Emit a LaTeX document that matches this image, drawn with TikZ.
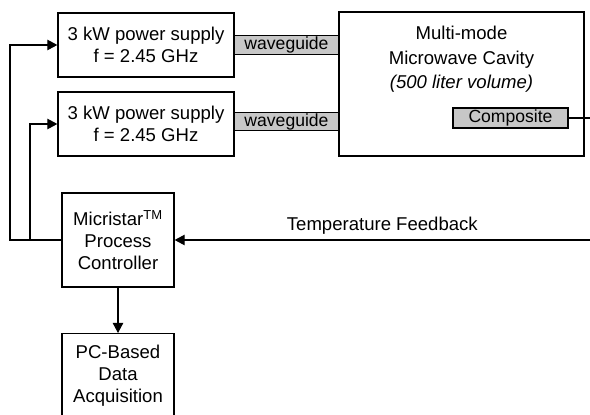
\documentclass[tikz,border=0pt]{standalone}
\usepackage{fontspec}
\setmainfont{Liberation Sans}
\usepackage{tikz}
\usetikzlibrary{arrows.meta,positioning,calc}

\begin{document}
\begin{tikzpicture}[>={Triangle[length=2.5mm,width=2.6mm]},line width=0.75pt,
   font=\fontsize{13.2}{15.6}\selectfont,
   blk/.style={draw,line width=0.9pt,align=center,inner sep=0pt},
   tag/.style={draw,line width=0.9pt,fill=black!22,inner sep=0pt,font=\fontsize{12.5}{14}\selectfont}]
  \useasboundingbox (0,0) rectangle (14.75,10.375);
  \clip (0,0) rectangle (14.75,10.375);
  \node[blk,minimum width=4.4cm,minimum height=1.6cm] (ps1) at (3.65,9.25) {3 kW power supply\\f = 2.45 GHz};
  \node[blk,minimum width=4.4cm,minimum height=1.6cm] (ps2) at (3.65,7.275) {3 kW power supply\\f = 2.45 GHz};
  \node[blk,minimum width=6.125cm,minimum height=3.6cm] (cav) at (11.5375,8.275) {};
  \node[align=center,inner sep=0pt,anchor=north,font=\fontsize{13.2}{17.5}\selectfont]
     (cavtxt) at ([yshift=-0.36cm]cav.north) {Multi-mode\\Microwave Cavity\\\textit{(500 liter volume)}};
  \node[tag,minimum width=2.6cm,minimum height=0.46cm] (wg1) at (7.1625,9.25) {waveguide};
  \node[tag,minimum width=2.6cm,minimum height=0.46cm] (wg2) at (7.1625,7.3375) {waveguide};
  \node[tag,minimum width=2.875cm,minimum height=0.5cm] (comp) at (12.7625,7.425) {Composite};
  \node[blk,minimum width=2.8cm,minimum height=2.35cm] (ctrl) at (2.95,4.375) {Micristar\textsuperscript{TM}\\Process\\Controller};
  \node[blk,minimum width=2.8cm,minimum height=2.1cm,anchor=north] (pc) at (2.95,2.05) {PC-Based\\Data\\Acquisition};
  % feedback loop
  \coordinate (ce) at (14.75,7.425);
  \coordinate (fb) at (14.75,4.375);
  \coordinate (j) at (0.75,4.375);
  \draw (comp.east) -- (ce);
  \draw[->] (fb) -- (ctrl.east) node[midway,above]{Temperature Feedback};
  \draw[->] (ctrl.west) -- (0.25,4.375) |- (ps1.west);
  \draw[->] (j) |- (ps2.west);
  \draw[->] (ctrl.south) -- (pc.north);
\end{tikzpicture}
\end{document}
